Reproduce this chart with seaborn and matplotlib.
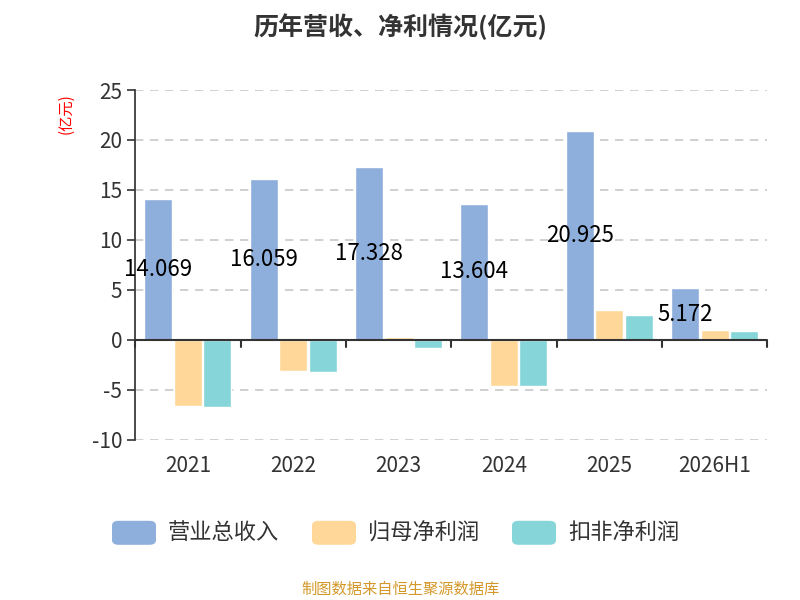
import matplotlib
matplotlib.use("Agg")
import matplotlib.pyplot as plt
import seaborn as sns
import pandas as pd

years = ["2021", "2022", "2023", "2024", "2025", "2026H1"]
revenue = [14.069, 16.059, 17.328, 13.604, 20.925, 5.172]
net_profit = [-6.6, -3.1, 0.3, -4.6, 3.0, 1.0]
deducted = [-6.7, -3.2, -0.8, -4.6, 2.5, 0.9]
series = ["营业总收入", "归母净利润", "扣非净利润"]
colors = ["#8eaedb", "#ffd899", "#86d5d9"]

sns.set_theme(style="white")
plt.rcParams['font.family'] = ['Noto Sans CJK SC', 'DejaVu Sans']
plt.rcParams['axes.unicode_minus'] = False

df = pd.DataFrame({
    "year": years * 3,
    "value": revenue + net_profit + deducted,
    "series": [series[0]] * 6 + [series[1]] * 6 + [series[2]] * 6,
})

fig = plt.figure(figsize=(8, 6), dpi=100)
ax = fig.add_axes([0.169, 0.267, 0.79, 0.583])
sns.barplot(data=df, x="year", y="value", hue="series", palette=colors,
            hue_order=series, width=0.84, gap=0.05, ax=ax, legend=False, saturation=1)

ax.set_ylim(-10, 25)
ax.set_yticks(range(-10, 26, 5))
ax.set_xlim(-0.5, 5.5)
ax.grid(axis="y", linestyle=(0, (5, 4)), color="#c8c8c8", linewidth=1.2)
ax.set_axisbelow(True)
for s in ["top", "right", "bottom"]:
    ax.spines[s].set_visible(False)
ax.spines["left"].set_color("#333333")
ax.axhline(0, color="#333333", linewidth=1.5, zorder=3)
ax.tick_params(axis="y", labelsize=15, colors="#333333", length=6, left=True, width=1.2)
ax.tick_params(axis="x", labelsize=15, colors="#333333", length=0, pad=11)
for i in range(7):
    ax.plot([i - 0.5, i - 0.5], [0, -0.7], color="#333333", lw=1.5, clip_on=False, zorder=3)
ax.set_xlabel("")
ax.set_ylabel("")

blue = ax.patches[:6]
for p, v in zip(blue, revenue):
    ax.text(p.get_x() + p.get_width() / 2, v / 2, f"{v:.3f}", ha="center", va="center",
            fontsize=16, color="black", zorder=5)

fig.text(0.5, 0.955, "历年营收、净利情况(亿元)", ha="center", va="center",
         fontsize=18, fontweight="bold", color="#333333")
fig.text(0.083, 0.81, "(亿元)", rotation=90, ha="center", va="center", fontsize=11, color="red")

from matplotlib.patches import FancyBboxPatch
lx = [0.14, 0.39, 0.64]
for x, c, s in zip(lx, colors, series):
    fig.patches.append(FancyBboxPatch((x, 0.092), 0.055, 0.04, boxstyle="round,pad=0,rounding_size=0.008",
                                      transform=fig.transFigure, facecolor=c, edgecolor="none"))
    fig.text(x + 0.07, 0.112, s, ha="left", va="center", fontsize=16, color="#333333")

fig.text(0.5, 0.018, "制图数据来自恒生聚源数据库", ha="center", va="center", fontsize=11, color="#d4982a")

fig.savefig("out.png", dpi=100)
